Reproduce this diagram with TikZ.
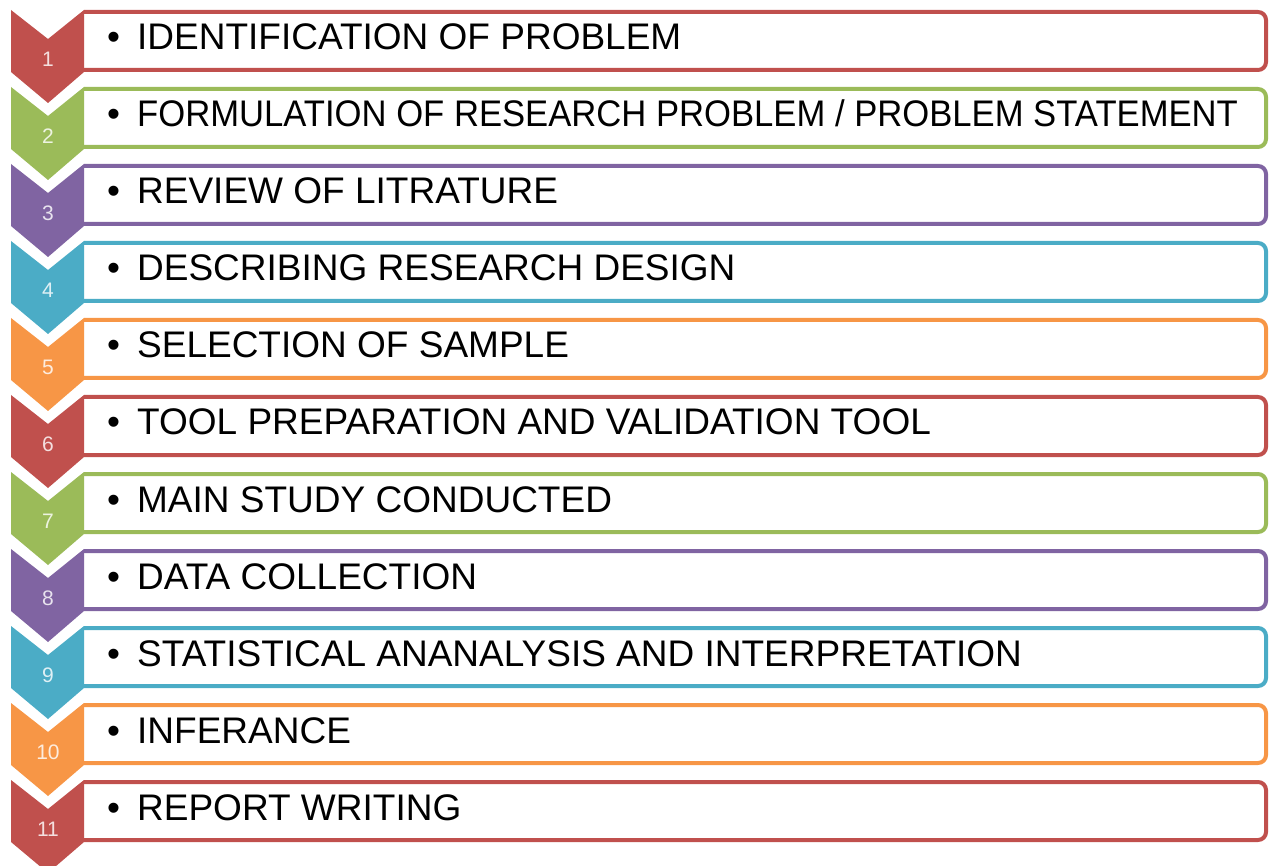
\documentclass[tikz,border=0pt]{standalone}
\usepackage{fontspec}
\setmainfont{Liberation Sans}

% Office colours
\definecolor{stepred}{HTML}{C0504D}
\definecolor{stepgreen}{HTML}{9BBB59}
\definecolor{steppurple}{HTML}{8064A2}
\definecolor{stepblue}{HTML}{4BACC6}
\definecolor{steporange}{HTML}{F79646}

\tikzset{
  stepbox/.style={draw=#1,line width=4pt,fill=white,rounded corners=8pt},
  chev/.style={fill=#1},
  steptext/.style={anchor=base west,inner sep=0pt,font=\fontsize{37}{37}\selectfont},
  stepnum/.style={text=white!82!#1,inner sep=0pt,font=\fontsize{21}{21}\selectfont}
}

% one step: number, colour, text
\newcommand{\researchstep}[3]{%
  \pgfmathsetmacro{\ytop}{10+77*(#1-1)}
  \filldraw[stepbox=#2] (84,\ytop+2) -- (1266,\ytop+2) -- (1266,\ytop+60) -- (84,\ytop+60);
  \fill[chev=#2] (11,\ytop) -- (48,\ytop+29) -- (84,\ytop) -- (84,\ytop+62)
    -- (48,\ytop+93) -- (11,\ytop+62) -- cycle;
  \node[steptext] (t#1) at (107,\ytop+40) {\makebox[30pt][l]{•}#3};
  \node[stepnum=#2] (n#1) at (48,\ytop+49) {#1};
}

\begin{document}
\begin{tikzpicture}[x=1pt,y=-1pt]

% Background
\useasboundingbox (0,0) rectangle (1269,866);
\clip (0,0) rectangle (1269,866);

% Steps
\researchstep{1}{stepred}{IDENTIFICATION OF PROBLEM}
\researchstep{2}{stepgreen}{\scalebox{0.936}[1]{FORMULATION OF RESEARCH PROBLEM / PROBLEM STATEMENT}}
\researchstep{3}{steppurple}{REVIEW OF LITRATURE}
\researchstep{4}{stepblue}{DESCRIBING RESEARCH DESIGN}
\researchstep{5}{steporange}{SELECTION OF SAMPLE}
\researchstep{6}{stepred}{TOOL PREPARATION AND VALIDATION TOOL}
\researchstep{7}{stepgreen}{MAIN STUDY CONDUCTED}
\researchstep{8}{steppurple}{DATA COLLECTION}
\researchstep{9}{stepblue}{STATISTICAL ANANALYSIS AND INTERPRETATION}
\researchstep{10}{steporange}{INFERANCE}
\researchstep{11}{stepred}{REPORT WRITING}

\end{tikzpicture}
\end{document}
